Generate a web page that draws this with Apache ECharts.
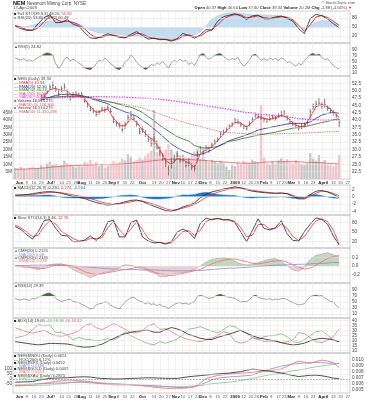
<!DOCTYPE html>
<html>
<head>
<meta charset="utf-8">
<script src="https://cdn.jsdelivr.net/npm/echarts@6.0.0/dist/echarts.min.js"></script>
<style>html,body{margin:0;padding:0;background:#fff;}#chart{width:367px;height:400px;}</style>
</head>
<body>
<div id="chart"></div>
<script>
// ---------- categories / ticks ----------
const startDate = '2008-05-27';
const endDate = '2009-04-28';
const holidays = ['2008-07-04','2008-09-01','2008-11-27','2008-12-25','2009-01-01','2009-01-19','2009-02-16','2009-04-10'];
const tickLabels = [
 ['2008-05-27','27'],['2008-06-02','Jun'],['2008-06-09','9'],['2008-06-16','16'],['2008-06-23','23'],
 ['2008-07-01','Jul'],['2008-07-07','7'],['2008-07-14','14'],['2008-07-21','21'],['2008-07-28','28'],
 ['2008-08-01','Aug'],['2008-08-11','11'],['2008-08-18','18'],['2008-08-25','25'],
 ['2008-09-02','Sep'],['2008-09-08','8'],['2008-09-15','15'],['2008-09-22','22'],
 ['2008-10-01','Oct'],['2008-10-13','13'],['2008-10-20','20'],['2008-10-27','27'],
 ['2008-11-03','Nov'],['2008-11-10','10'],['2008-11-17','17'],['2008-11-24','24'],
 ['2008-12-01','Dec'],['2008-12-08','8'],['2008-12-15','15'],['2008-12-22','22'],
 ['2009-01-02','2009'],['2009-01-12','12'],['2009-01-20','20'],['2009-01-26','26'],
 ['2009-02-02','Feb'],['2009-02-09','9'],['2009-02-17','17'],['2009-02-23','23'],
 ['2009-03-02','Mar'],['2009-03-09','9'],['2009-03-16','16'],['2009-03-23','23'],
 ['2009-04-01','April'],['2009-04-13','13'],['2009-04-20','20'],['2009-04-27','27']
];
const monthLabels = ['Jun','Jul','Aug','Sep','Oct','Nov','Dec','2009','Feb','Mar','April'];

// ---------- price panel (every 2nd trading day, from day index 1) ----------
const priceClose = [46.0,45.4,44.6,46.5,45.8,44.9,44.3,45.6,47.2,48.3, 48.0,49.8,51.2,51.8,50.2,49.0,50.6,51.2,48.5,47.2,
 48.6,48.9,48.2,48.6,46.4,45.0,43.6,43.0,42.0,42.6, 43.8,43.4,44.2,42.9,39.6,38.8,37.9,36.8,38.6,40.9,
 41.6,40.4,38.5,36.0,36.8,35.0,33.4,32.0,33.8,30.6, 29.2,27.0,25.4,22.6,25.8,26.6,27.8,26.2,26.8,24.6,
 25.6,24.0,23.6,28.4,30.2,28.8,30.6,29.9,31.4,32.6, 33.4,35.2,35.8,36.9,38.0,38.6,40.0,39.5,38.4,37.6,
 37.3,38.8,40.2,41.8,41.2,40.6,40.2,39.8,40.5,41.0, 40.6,41.5,42.0,42.4,40.4,39.4,38.7,38.2,37.4,37.8,
 38.3,39.2,42.8,44.6,45.4,45.8,44.8,45.2,44.0,43.2, 42.4,41.6,39.34];
const priceHigh = [46.9,46.4,45.8,47.2,46.8,46.0,45.2,46.1,47.9,49.0, 49.2,50.4,52.2,53.1,51.6,50.2,51.5,52.6,50.4,48.3,
 49.5,49.8,49.4,49.6,47.8,46.0,44.9,44.2,43.4,43.5, 44.6,44.3,45.2,44.1,41.2,39.9,39.2,38.0,39.4,41.9,
 43.1,41.6,39.9,37.5,37.9,36.6,35.2,34.0,35.4,33.1, 31.0,28.9,27.2,24.6,27.4,28.3,29.6,28.0,28.2,26.1,
 26.9,25.5,24.9,29.4,31.2,30.3,31.5,31.0,32.3,33.5, 34.2,36.0,36.8,37.7,38.6,39.3,40.7,40.4,39.3,38.5,
 38.2,39.6,41.0,42.6,42.1,41.6,41.1,40.7,41.3,41.9, 41.5,42.4,43.2,43.4,41.6,40.3,39.6,39.1,38.4,38.7,
 39.2,40.1,43.8,45.6,46.6,47.6,46.0,47.4,45.1,44.2, 43.4,42.6,40.4];
const priceLow = [45.3,44.9,44.0,45.2,45.1,44.3,43.6,44.5,46.2,47.3, 47.4,48.8,50.1,50.9,49.6,48.3,49.6,50.3,48.0,46.6,
 47.5,48.1,47.6,47.8,45.9,44.3,43.0,42.4,41.2,41.8, 42.9,42.6,43.4,42.5,39.0,37.9,37.2,35.9,37.0,39.1,
 40.8,39.6,37.8,35.2,35.6,34.3,32.6,31.0,31.8,29.9, 27.9,26.2,24.1,21.2,23.6,25.4,26.6,25.4,25.9,23.9,
 24.3,23.1,22.3,26.4,28.9,28.1,29.4,28.9,30.5,31.7, 32.5,34.3,34.9,36.0,37.2,37.8,39.1,38.8,37.7,36.9,
 36.5,37.9,39.2,40.8,40.4,39.9,39.3,39.0,39.6,40.2, 39.8,40.6,41.2,41.6,39.7,38.6,37.9,37.3,36.5,36.9,
 37.5,38.4,40.6,43.5,44.4,45.0,43.9,44.3,43.2,42.4, 41.6,40.8,37.6];
const volumeM = [7.5,6.8,8.2,7.0,6.5,7.8,8.5,6.9,7.7,9.2, 8.0,10.5,11.8,9.6,10.2,8.8,9.5,12.4,10.8,9.9,
 8.7,7.9,9.1,8.4,11.6,10.9,12.8,9.8,11.4,8.9, 10.1,7.8,8.6,9.4,12.2,10.8,11.5,13.9,12.6,16.8,
 15.2,11.9,12.8,14.6,13.2,15.8,17.5,19.0,47.0,18.2, 21.5,16.9,19.8,23.5,20.2,15.4,17.8,14.2,13.6,15.1,
 14.4,16.2,18.8,20.6,13.4,15.9,12.8,11.6,13.1,12.2, 10.8,12.6,11.2,8.6,6.1,9.4,8.8,11.7,10.3,12.4,
 11.1,10.6,13.2,12.1,11.3,50.2,14.8,10.9,9.7,11.8, 10.4,12.7,14.1,12.3,13.5,11.2,10.6,12.9,11.4,10.2,
 9.6,10.8,17.6,13.9,12.4,16.3,11.5,12.8,10.1,9.4, 8.7,10.6,16.5];

// ---------- smooth lines (every 4th trading day, from day index 1) ----------
const volumeMA = [6.6,6.7,6.8,7.0,7.2, 7.5,7.9,8.3,8.6,8.9, 9.1,9.2,9.4,9.6,9.8, 9.8,9.7,9.8,10.0,10.3, 10.7,11.1,11.5,12.0,12.5,
 12.9,13.2,13.4,13.5,13.4, 13.2,13.0,12.8,12.5,12.2, 11.9,11.6,11.3,11.0,10.8, 10.7,10.7,10.9,11.5,11.6, 11.7,11.7,11.8,11.8,11.7,
 11.5,11.3,11.2,11.0,10.7, 10.4,10.1];
const ema5 = [46.2,45.2,45.7,44.7,46.4, 47.9,50.4,50.8,50.0,50.0, 48.0,48.5,47.2,44.6,42.6, 43.2,43.8,40.6,38.4,38.0,
 40.6,39.3,36.6,34.4,33.2, 30.0,26.3,24.9,26.9,26.5, 25.4,24.0,28.6,30.0,31.0, 33.0,35.3,37.3,39.2,39.0,
 37.6,39.4,41.2,40.6,40.2, 40.8,41.6,41.0,39.0,37.8, 38.0,41.0,44.6,45.3,44.5, 42.8,40.9];
const ema20 = [46.8,46.6,46.5,46.3,46.5, 47.1,47.8,48.4,48.7,48.8, 48.7,48.5,48.1,47.4,46.8, 46.2,45.6,44.4,43.6,42.8,
 42.2,41.3,39.9,38.6,37.0, 35.4,33.6,31.9,30.6,29.6, 28.8,28.1,28.3,29.0,29.9, 31.0,32.1,33.0,33.7,34.3,
 35.0,35.8,36.6,37.1,37.5, 37.9,38.3,38.7,38.9,38.9, 38.9,39.4,40.6,41.7,42.3, 42.6,42.3];
const ema50 = [47.0,47.0,47.1,47.1,47.3, 47.5,47.7,47.9,48.0,48.1, 48.1,48.1,48.0,47.7,47.3, 46.8,46.3,45.9,45.4,44.8,
 44.4,43.6,42.6,41.2,39.8, 38.2,36.9,35.6,34.4,33.6, 32.9,31.4,30.7,30.5,30.7, 31.1,31.8,32.8,33.1,33.6,
 34.0,34.5,34.9,35.2,35.6, 35.9,36.4,36.8,37.3,37.5, 37.8,38.2,38.7,39.2,39.6, 40.1,40.4];
const ma150 = [46.8,47.0,47.2,47.3,47.4, 47.6,47.7,47.8,47.9,47.9, 47.9,47.8,47.6,47.3,47.0, 46.7,46.4,46.0,45.7,45.3,
 45.0,44.6,44.1,43.4,42.8, 42.1,41.4,40.7,40.0,39.4, 38.8,38.3,37.9,37.3,36.8, 36.3,36.0,35.8,35.6,35.5,
 35.4,35.3,35.3,35.3,35.3, 35.3,35.4,35.5,35.5,35.6, 35.6,35.7,35.8,35.9,36.0, 36.1,36.2];
const ma200 = [46.5,46.6,46.7,46.8,46.9, 47.1,47.3,47.5,47.6,47.7, 47.8,47.9,47.9,48.0,48.0, 48.0,47.9,47.9,47.8,47.8,
 47.7,47.6,47.5,47.4,47.3, 47.1,46.9,46.6,46.4,46.1, 45.8,45.5,45.2,44.9,44.6, 44.3,44.0,43.6,43.2,42.9,
 42.6,42.4,42.1,41.9,41.7, 41.5,41.3,41.1,40.9,40.5, 40.3,40.2,40.1,40.0,40.0, 40.0,40.0];

// panel 1: full stochastics + smoothed area
const stoLongK = [54,45,39,40,62, 82,91,65,66,75, 60,53,32,14,12, 20,28,22,16,14, 26,35,22,10,13, 8,9,3,12,29,
 22,13,24,42,40, 70,85,90,95,88, 76,88,90,78,78, 84,87,80,70,45, 28,78,93,88,77, 62,48];
const stoLongD = [56,49,42,39,48, 68,85,78,68,70, 66,58,44,26,15, 16,23,24,19,16, 20,29,27,17,12, 10,9,6,8,20,
 24,18,19,34,41, 58,77,87,92,91, 81,84,88,82,79, 81,85,83,75,56, 36,58,84,89,82, 70,56];
const stoLongArea = [50,51,52,56,62, 67,70,72,72,71, 67,60,48,40,33, 30,30,30,26,22, 20,18,17,15,14, 10,6,7,12,17,
 21,25,35,55,76, 88,95,98,98,96, 94,91,91,91,90, 89,88,84,72,52, 42,56,66,72,71, 65,53];

// panel 2 / panel 7: RSI lines (every 2nd trading day)
const rsiFast = [62,58,55,60,52,56,50,58,64,70, 76,80,78,72,42,27,38,58,66,52, 58,52,45,38,28,24,22,30,42,55,
 50,62,55,42,36,25,22,30,48,56, 72,63,47,38,30,22,28,40,36,46, 40,50,38,28,45,55,48,58,50,54,
 40,46,36,55,74,78,64,58,64,72, 76,78,68,60,55,60,57,64,46,34, 42,56,72,76,64,54,60,54,62,57,
 60,54,62,58,46,50,40,34,44,38, 54,64,74,79,72,76,64,56,60,48, 36,29,25];
const rsiSlow = [62,58,57,60,58,55,62,60,66,70, 75,79,80,74,62,56,52,54,58,59, 52,50,48,42,38,32,27,29,40,44,
 46,50,48,40,34,30,27,38,50,58, 64,66,58,54,50,44,48,42,44,38, 42,36,34,28,36,42,46,48,44,46,
 42,48,52,68,72,70,66,62,64,68, 73,76,72,68,66,64,62,56,50,52, 51,58,68,73,66,63,60,59,61,57,
 60,58,61,62,58,52,48,44,40,42, 44,58,68,71,73,70,71,64,58,52, 50,38,29];

// panel 4: MACD
const macdLine = [0.45,0.5,0.6,0.8,1.1, 1.3,1.4,1.2,0.9,0.5, 0.1,-0.2,-0.5,-1.1,-1.6, -2.0,-2.3,-2.1,-1.8,-1.4,
 -1.0,-0.9,-1.3,-2.0,-2.6, -3.2,-3.8,-4.0,-3.5,-2.8, -2.3,-1.7,-0.3,0.7,1.3, 1.7,2.1,2.4,2.7,2.4,
 1.9,1.5,1.3,1.1,1.0, 0.9,1.0,0.8,0.1,-0.6, -0.6,0.6,1.5,1.7,1.3, 0.6,-0.2];
const macdSignal = [0.3,0.4,0.5,0.6,0.8, 1.0,1.2,1.25,1.1,0.8, 0.5,0.2,-0.1,-0.5,-1.0, -1.5,-1.9,-2.1,-2.0,-1.7,
 -1.4,-1.1,-1.2,-1.6,-2.1, -2.7,-3.3,-3.7,-3.6,-3.1, -2.7,-2.1,-1.2,-0.2,0.6, 1.2,1.7,2.1,2.4,2.4,
 2.1,1.8,1.5,1.3,1.1, 1.0,1.0,0.9,0.4,-0.2, -0.5,0.0,1.0,1.5,1.4, 0.9,0.3];
const macdHist = [0.15,0.2,0.25,0.3,0.35, 0.45,0.5,0.2,-0.15,-0.3, -0.35,-0.3,-0.45,-0.6,-0.55, -0.5,-0.3,0.0,0.25,0.4,
 0.5,0.3,-0.15,-0.5,-0.6, -0.65,-0.5,-0.3,0.2,0.5, 0.5,0.6,1.0,1.2,0.9, 0.6,0.5,0.4,0.3,0.0,
 -0.3,-0.35,-0.25,-0.2,-0.15, -0.1,0.0,-0.15,-0.4,-0.5, -0.2,0.6,0.6,0.3,-0.1, -0.35,-0.5];

// panel 5: slow stochastics
const stoK = [68,58,42,28,52, 86,90,62,40,38, 20,20,25,38,24, 40,82,88,35,35, 80,88,35,22,16, 18,12,20,50,60,
 50,30,78,94,89, 94,88,89,80,50, 20,55,92,62,57, 64,86,45,24,22, 52,75,95,90,75, 38,9];
const stoD = [72,63,50,36,40, 68,86,76,52,42, 30,22,22,30,30, 32,64,84,58,38, 60,84,58,30,20, 17,15,16,34,52,
 55,40,56,84,91, 92,90,89,84,64, 36,40,74,74,60, 61,76,62,36,24, 36,62,86,92,83, 56,13];

// panel 6: CMF
const cmf = [0.01,-0.02,-0.04,-0.05,-0.09, -0.03,0.03,0.05,0.05,0.0, -0.08,-0.15,-0.2,-0.27,-0.21, -0.16,-0.13,-0.11,-0.04,0.03,
 0.02,-0.03,-0.07,-0.12,-0.17, -0.24,-0.25,-0.2,-0.17,-0.15, -0.12,-0.08,0.0,0.09,0.15, 0.18,0.19,0.17,0.11,0.05,
 0.03,0.03,0.08,0.12,0.16, 0.17,0.11,0.0,-0.09,-0.12, -0.03,0.15,0.25,0.27,0.31, 0.26,0.21];
const cmfFast = [0.01,0.0,-0.01,-0.03,-0.05, -0.06,-0.02,0.02,0.04,0.02, -0.01,-0.06,-0.13,-0.17,-0.2, -0.18,-0.15,-0.13,-0.1,-0.08,
 -0.06,-0.03,-0.02,-0.08,-0.14, -0.18,-0.2,-0.22,-0.2,-0.17, -0.14,-0.11,-0.08,-0.01,0.05, 0.1,0.13,0.16,0.16,0.13,
 0.1,0.06,0.05,0.07,0.1, 0.12,0.13,0.09,0.03,-0.03, -0.07,-0.05,0.02,0.1,0.17, 0.22,0.24];
const cmfSlow = [0.01,0.01,0.01,0.02,0.02, 0.02,0.02,0.02,0.01,0.01, 0.0,-0.01,-0.02,-0.03,-0.04, -0.05,-0.06,-0.07,-0.07,-0.08,
 -0.08,-0.08,-0.09,-0.09,-0.09, -0.1,-0.1,-0.11,-0.11,-0.11, -0.11,-0.1,-0.1,-0.09,-0.08, -0.07,-0.06,-0.05,-0.05,-0.04,
 -0.03,-0.02,-0.01,0.0,0.01, 0.02,0.02,0.03,0.03,0.04, 0.04,0.05,0.06,0.06,0.07, 0.08,0.08];

// panel 8: ADX
const minusDI = [33,31,29,27.5,29, 30.5,27.4,25,24.5,25.7, 27.5,30,35,37,33, 31,34,37,34.5,31.5, 28,28,30,35,37,
 31.4,32,29,25.5,23, 21,20,19,20.5,22.5, 25,29,27.5,19.5,17.5, 19,23,22,19,19.5, 20,18,19,20.7,28, 27,23,19,18,20.7, 24,32];
const plusDI = [23,24,25.7,31,36, 35,35.7,28,28.5,25.7, 20.7,23.5,21.5,21,20, 20.5,22,20.7,23.5,29, 25,22,19.5,17,16,
 19,17.5,19.5,21.5,26, 31.5,32.5,34,31.8,29.5, 28,31,35,34,30, 27.4,23,21,24,25, 25.5,27,24,19,18.2, 21,25,29,30,25.7, 20.7,19];
const adx = [19,18.2,17.4,16.5,15.8, 16.5,17.4,17.2,17,16.7, 15.5,14.2,13.5,13.8,14.8, 16.5,19.5,22,25,27, 28.5,29.5,30.2,30.5,28.5,
 28.5,31,33.2,31.8,29.5, 26.2,24.5,22.4,21.4,21.2, 23.3,25,26.5,28.5,30.5, 27.5,25,23,21.8,20.7, 19.5,18,16.8,15.7,16.3,
 17.6,19.8,21.6,22.3,21.8, 20.7,19];

// panel 9: relative performance
const perfBlack = [-31,-29,-27,-25,-12, -2,6,9,11,13, 17,20,22,19,11, 6,3,1,1,3, 6,8,10,12,11, 9,7,6,6,14,
 23,28,33,39,45, 50,54,58,66,73, 85,97,91,82,76, 68,58,46,35,24, 30,37,38,32,22, 8,6];
const perfRed = [-64,-62,-60,-58,-50, -42,-33,-24,-16,-10, -13,-16,-19,-26,-36, -45,-51,-56,-58,-55, -53,-58,-66,-72,-80,
 -86,-91,-92,-91,-91, -85,-78,-40,5,20, 35,42,50,55,57, 61,65,72,77,84, 90,98,125,153,175, 165,153,172,185,177, 160,110];
const perfBlue = [-58,-56,-53,-50,-47, -44,-42,-40,-38,-36, -34,-33,-33,-37,-41, -45,-49,-51,-53,-56, -58,-61,-63,-65,-68,
 -71,-74,-78,-81,-84, -83,-73,-58,-35,-8, 8,15,21,24,28, 33,39,60,80,96, 112,126,137,146,153, 157,161,163,160,157, 154,153];
const perfGreen = [-68,-67,-65,-63,-61, -60,-58,-52,-46,-39, -33,-28,-26,-30,-34, -38,-42,-44,-47,-51, -55,-58,-59,-62,-66,
 -70,-73,-74,-75,-75, -71,-68,-65,-55,-46, -41,-35,-30,-24,-14, -5,5,18,30,41, 50,58,70,80,88, 98,110,120,128,136, 143,153];

// ---------- build ----------
const FONT = 'Liberation Sans';
function buildDays(){
  const out=[]; let t=Date.parse(startDate+'T00:00:00Z'); const end=Date.parse(endDate+'T00:00:00Z');
  while(t<=end){ const d=new Date(t); const wd=d.getUTCDay(); const s=d.toISOString().slice(0,10);
    if(wd!==0 && wd!==6 && holidays.indexOf(s)<0) out.push(s); t+=86400000; }
  return out;
}
const dates = buildDays();
const tickMap = new Map(tickLabels);
const at2 = arr => arr.map((v,k)=>[1+2*k, v]);
const at4 = arr => arr.map((v,k)=>[1+4*k, v]);

const gridDefs = [[11,32],[43,33],[76,103],[185,30],[215,33],[248,35],[283,35],[318,35],[353,40]];
const grids = gridDefs.map(g=>({left:13, right:17, top:g[0], height:g[1], show:true, borderColor:'#a8a8a8', borderWidth:0.6, backgroundColor:'rgba(0,0,0,0)'}));
const xAxes = gridDefs.map((g,i)=>({
  type:'category', gridIndex:i, data:dates, boundaryGap:true,
  axisLine:{show:false}, axisTick:{show:false},
  axisLabel:{show: i===2 || i===8, interval:(idx,val)=>tickMap.has(val),
    formatter:v=>{const t=tickMap.get(v)||''; return monthLabels.indexOf(t)>=0 ? '{b|'+t+'}' : t;},
    rich:{b:{fontWeight:'bold', fontSize:4.3, fontFamily:FONT, color:'#222'}},
    fontSize:4.3, fontFamily:FONT, color:'#555', margin:1.8},
  splitLine:{show:true, interval:(idx,val)=>tickMap.has(val), lineStyle:{color:'#e4e4e4', width:0.5}}
}));
function yAx(grid, min, max, vals, fmt, pos){
  return {type:'value', gridIndex:grid, min, max, position:pos||'right', scale:false,
    axisLine:{show:false}, axisTick:{show:false}, splitLine:{show:false},
    axisLabel:{customValues:vals, fontSize:4.6, fontFamily:FONT, color:'#444', margin:pos==='left'?1:2,
      formatter: fmt || (v=>String(v))}};
}
const yAxes = [
  yAx(0,-3,104,[20,50,80]),
  yAx(1,0,114,[10,30,50,70,90]),
  yAx(2,20,55,[22.5,25,27.5,30,32.5,35,37.5,40,42.5,45,47.5,50,52.5], v=>v.toFixed(1)),
  yAx(2,0,70,[5,10,15,20,25,30,35,40,45], v=>v+'M','left'),
  yAx(3,-5,3.2,[-4,-2,0,2]),
  yAx(4,0,104,[20,50,80]),
  yAx(5,-0.39,0.414,[-0.2,0,0.2], v=>v.toFixed(1)),
  yAx(6,-3.3,113.3,[10,30,50,70,90]),
  yAx(7,7.7,42.7,[10,15,20,25,30,35,40]),
  yAx(8,-137,255,[-50,0,50,100], null,'left'),
  yAx(8,0.00445,0.01118,[0.005,0.006,0.007,0.008,0.009,0.010], v=>v.toFixed(3))
];
function hLines(vals, color, type){
  return {silent:true, symbol:['none','none'], label:{show:false}, animation:false,
    lineStyle:{color:color||'#e2e2e2', width:0.5, type:type||'solid'}, data: vals.map(v=>({yAxis:v}))};
}
function line(xi, yi, data, color, width, extra){
  return Object.assign({type:'line', xAxisIndex:xi, yAxisIndex:yi, data, symbol:'none', showSymbol:false,
    lineStyle:{color, width:width==null?0.8:width}, itemStyle:{color}, silent:true, animation:false, z:4}, extra||{});
}
function fill(xi, yi, data, origin, color){
  return line(xi, yi, data, color, 0, {lineStyle:{width:0, opacity:0}, areaStyle:{origin, color, opacity:1}, z:2});
}

const series = [
  // panel 1
  line(0,0, at4(stoLongArea), '#9fc4e2', 0.5, {areaStyle:{origin:50, color:'#c4dcef', opacity:1}, z:2, markLine:hLines([20,50,80])}),
  line(0,0, at4(stoLongD), '#e83030', 1.0),
  line(0,0, at4(stoLongK), '#222222', 0.8),
  // panel 2
  fill(1,1, at2(rsiFast.map(v=>Math.max(v,70))), 70, '#3e6e3e'),
  fill(1,1, at2(rsiFast.map(v=>Math.min(v,30))), 30, '#7c4a44'),
  line(1,1, at2(rsiFast), '#666666', 0.6, {markLine:hLines([30,50,70])}),
  // price panel
  {type:'bar', xAxisIndex:2, yAxisIndex:3, data:at2(volumeM), barWidth:2.4, silent:true, animation:false, z:1,
    itemStyle:{color:p=>(p.dataIndex>0 && priceClose[p.dataIndex]<priceClose[p.dataIndex-1]) ? '#f3c3cc' : '#c6c6c6'},
    markLine:hLines([22.5,25,27.5,30,32.5,35,37.5,40,42.5,45,47.5,50,52.5].map(v=>(v-20)*2))},
  line(2,3, at4(volumeMA), '#e06060', 0.8, {z:2}),
  {type:'custom', xAxisIndex:2, yAxisIndex:2, silent:true, animation:false, z:3,
    data: priceClose.map((c,k)=>[1+2*k, priceHigh[k], priceLow[k], c]),
    encode:{x:0, y:[1,2,3]},
    renderItem:(params, api)=>{
      const i=api.value(0);
      const h=api.coord([i, api.value(1)]), l=api.coord([i, api.value(2)]), c=api.coord([i, api.value(3)]);
      return {type:'group', children:[
        {type:'line', shape:{x1:h[0],y1:h[1],x2:l[0],y2:l[1]}, style:{stroke:'#6a6a6a', lineWidth:0.9}},
        {type:'line', shape:{x1:c[0],y1:c[1],x2:c[0]+1.3,y2:c[1]}, style:{stroke:'#6a6a6a', lineWidth:0.8}}
      ]};
    }},
  line(2,2, at4(ma150), '#b86060', 0.9, {lineStyle:{color:'#b86060', width:0.9, type:'dotted'}}),
  line(2,2, at4(ma200), '#ff30ff', 1.3, {lineStyle:{color:'#ff30ff', width:1.3, type:'dotted'}}),
  line(2,2, at4(ema50), '#2f6f2f', 0.8),
  line(2,2, at4(ema20), '#2c2c8c', 0.8),
  line(2,2, at4(ema5), '#ff2a2a', 0.9),
  // MACD
  line(3,4, at4(macdHist), '#1b73bd', 0.4, {areaStyle:{origin:0, color:'#1f7ac4', opacity:1}, z:2, markLine:hLines([-4,-2,0,2])}),
  line(3,4, at4(macdSignal), '#e83030', 0.8),
  line(3,4, at4(macdLine), '#222222', 0.8),
  // slow stoch
  line(4,5, at4(stoD), '#e83030', 0.8, {markLine:hLines([20,50,80])}),
  line(4,5, at4(stoK), '#222222', 0.8),
  // CMF
  fill(5,6, at4(cmf.map(v=>Math.max(v,0))), 0, '#c2d6c2'),
  fill(5,6, at4(cmf.map(v=>Math.min(v,0))), 0, '#e8cfd2'),
  line(5,6, at4(cmf), '#9a9a9a', 0.5, {markLine:hLines([-0.2,0,0.2])}),
  line(5,6, at4(cmfSlow), '#8c8cd0', 0.8),
  line(5,6, at4(cmfFast), '#f07878', 0.9),
  // RSI slow
  fill(6,7, at2(rsiSlow.map(v=>Math.max(v,70))), 70, '#3e6e3e'),
  fill(6,7, at2(rsiSlow.map(v=>Math.min(v,30))), 30, '#7c4a44'),
  line(6,7, at2(rsiSlow), '#666666', 0.6, {markLine:hLines([10,30,50,70,90])}),
  // ADX
  line(7,8, at4(plusDI), '#6aa86a', 0.7, {markLine:hLines([10,15,20,25,30,35,40])}),
  line(7,8, at4(minusDI), '#d86a6a', 0.7),
  line(7,8, at4(adx), '#222222', 0.8),
  // performance
  line(8,9, at4(perfGreen), '#8cc08c', 0.8, {markLine:hLines([-50,50,100])}),
  line(8,9, at4(perfBlue), '#8a8ad0', 0.8),
  line(8,9, at4(perfRed), '#f07a7a', 0.9),
  line(8,9, at4(perfBlack), '#222222', 0.8, {markLine:hLines([0],'#777','dashed')})
];

function rt(x, y, parts, size, align){
  const rich={}; let s='';
  parts.forEach((p,i)=>{ const col=p[1]||'#333';
    rich['p'+i]={fill:col, color:col, fontSize:p[3]||size, fontFamily:FONT, fontWeight:p[2]?'bold':'normal'};
    s+='{p'+i+'|'+p[0]+'}'; });
  return {type:'text', x, y, z:30, silent:true,
    style:{text:s, rich, fontSize:size, fontFamily:FONT, align:align||'left', verticalAlign:'top', textAlign:align||'left', textVerticalAlign:'top'}};
}
const LS = 4.1;
const graphics = [
  rt(13,0.5,[['NEM','#111',true,5.6],[' Newmont Mining Corp. NYSE','#444']],4.5),
  rt(13,6.3,[['17-Apr-2009','#444']],4.3),
  rt(355,0.8,[['© StockCharts.com','#555']],3.9,'right'),
  rt(352,6.3,[['Open ','#222',true],['40.37 ','#444'],['High ','#222',true],['40.60 ','#444'],['Low ','#222',true],['37.60 ','#444'],
    ['Close ','#222',true],['39.34 ','#444'],['Volume ','#222',true],['20.2M ','#444'],['Chg ','#222',true],['-1.88 (-4.56%) ','#444'],['▼','#e03030']],4.1,'right'),
  rt(14,12.2,[['■ ','#222'],['Full STO(39,9,3) 48.20, ','#444'],['55.92','#e03030']],LS),
  rt(14,15.8,[['■ ','#7fb0d8'],['RSI(20) 53.80 (25,22) 60.49','#444']],LS),
  rt(14,44.5,[['▲','#3e6e3e'],['RSI(5) 24.82','#444']],LS),
  {type:'rect', shape:{x:13.5, y:76.5, width:27, height:38}, style:{fill:'rgba(255,255,255,0.9)'}, z:20, silent:true},
  rt(14,77.3,[['■ ','#222'],['NEM (Daily) 39.34','#444']],LS),
  rt(14,80.9,[['— ','#ff2a2a'],['EMA(5) 40.94','#ff2a2a']],LS),
  rt(14,84.5,[['— ','#2c2c8c'],['EMA(20) 42.30','#2c2c8c']],LS),
  rt(14,88.1,[['— ','#2f6f2f'],['EMA(50) 40.37','#2f6f2f']],LS),
  rt(14,91.7,[['— ','#b86060'],['MA(150) 36.18','#b86060']],LS),
  rt(14,95.3,[['— ','#ff30ff'],['MA(200) 40.03','#ff30ff']],LS),
  rt(14,98.9,[['■ ','#888'],['Volume 16,514,275','#444']],LS),
  rt(14,102.5,[['— ','#e06060'],['MA(50) 10,118,300','#e06060']],LS),
  rt(14,106.1,[['■ ','#888'],['Volume 16,514,275','#444']],LS),
  rt(14,109.7,[['— ','#b86060'],['EMA(50) 11,310,298','#b86060']],LS),
  rt(14,186.3,[['■ ','#222'],['MACD(12,26,9) -0.230, ','#444'],['0.274, ','#e03030'],['-0.504','#1f7ac4']],LS),
  rt(14,216.3,[['■ ','#222'],['Slow STO(14,3) 9.46, ','#444'],['12.76','#e03030']],LS),
  rt(14,249.3,[['▲','#6aa06a'],['CMF(20) 0.2126','#444']],LS),
  rt(14,252.6,[['— ','#8c8cd0'],['MA(200) 0.08','#8c8cd0']],LS),
  rt(14,255.9,[['▲','#6aa06a'],['CMF(20) 0.2126','#444']],LS),
  rt(14,259.2,[['— ','#f07878'],['EMA(20) 0.238','#f07878']],LS),
  rt(14,284.3,[['▲','#3e6e3e'],['RSI(14) 29.39','#444']],LS),
  rt(14,319.3,[['■ ','#222'],['ADX(14) 19.05 ','#444'],['+DI 18.98 ','#6aa86a'],['-DI 32.32','#d86a6a']],LS),
  rt(14,354.2,[['■ ','#222'],['NEM:$INDU (Daily) 0.0051','#444']],LS),
  rt(14,357.4,[['— ','#222'],['ROC(200) 6.12%','#444']],LS),
  rt(14,360.6,[['■ ','#222'],['NEM:$SPX (Daily) 0.0452','#444']],LS),
  rt(14,363.8,[['— ','#8a8ad0'],['MA(5) 0.0488','#8a8ad0']],LS),
  rt(14,367.0,[['■ ','#222'],['NEM:$GOLD (Daily) 0.0437','#444']],LS),
  rt(14,370.2,[['— ','#f07a7a'],['MA(5) 0.0453','#f07a7a']],LS),
  rt(14,373.4,[['■ ','#222'],['NEM:$XAU (Daily) 0.2875','#444']],LS),
  rt(14,376.6,[['— ','#8cc08c'],['MA(5) 0.2990','#8cc08c']],LS)
];

const chart = echarts.init(document.getElementById('chart'), null, {renderer:'canvas', width:367, height:400});
chart.setOption({
  animation:false, backgroundColor:'#ffffff',
  textStyle:{fontFamily:FONT},
  grid:grids, xAxis:xAxes, yAxis:yAxes, series, graphic:{elements:graphics}
});
</script>
</body>
</html>
